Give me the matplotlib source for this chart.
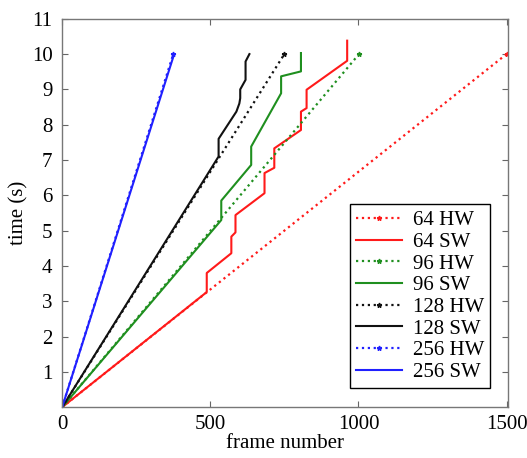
import numpy as np
import matplotlib
matplotlib.use('Agg')
import matplotlib.pyplot as plt

plt.rcParams['font.family'] = ['Liberation Serif', 'DejaVu Serif']
plt.rcParams['mathtext.fontset'] = 'stix'

# HW runs: straight lines (frame, time)
hw64_x = [0, 1500]
hw64_y = [0, 10.0]
hw96_x = [0, 1002]
hw96_y = [0, 10.0]
hw128_x = [0, 750]
hw128_y = [0, 10.0]
hw256_x = [0, 375]
hw256_y = [0, 10.0]

# SW runs: step-ish curves
sw64_x = [0, 488, 488, 571, 571, 585, 585, 683, 683, 716, 716, 806, 806, 825, 825, 962, 962]
sw64_y = [0, 3.26, 3.8, 4.36, 4.83, 4.95, 5.44, 6.06, 6.63, 6.78, 7.33, 7.85, 8.37, 8.47, 8.99, 9.81, 10.38]
sw96_x = [0, 537, 537, 638, 638, 739, 739, 806, 806]
sw96_y = [0, 5.3, 5.85, 6.86, 7.38, 8.89, 9.37, 9.51, 10.03]
sw128_x = [0, 528, 528, 588, 598, 601, 601, 619, 619, 632]
sw128_y = [0, 7.1, 7.6, 8.37, 8.6, 8.75, 9.0, 9.27, 9.79, 10.0]
sw256_x = [0, 378]
sw256_y = [0, 10.0]

red = '#ff1a1a'
green = '#1f8f1f'
black = '#111111'
blue = '#2020ff'

fig = plt.figure(figsize=(5.27, 4.58), dpi=100)
ax = fig.add_axes([0.118, 0.111, 0.846, 0.848])

def hw(x, y, c, lab):
    ax.plot(x, y, ls=':', color=c, lw=1.6, marker='*', ms=3.5, markevery=[-1], label=lab)

def sw(x, y, c, lab):
    ax.plot(x, y, ls='-', color=c, lw=1.5, label=lab)

hw(hw64_x, hw64_y, red, '64 HW')
sw(sw64_x, sw64_y, red, '64 SW')
hw(hw96_x, hw96_y, green, '96 HW')
sw(sw96_x, sw96_y, green, '96 SW')
hw(hw128_x, hw128_y, black, '128 HW')
sw(sw128_x, sw128_y, black, '128 SW')
hw(hw256_x, hw256_y, blue, '256 HW')
sw(sw256_x, sw256_y, blue, '256 SW')

ax.set_xlim(0, 1505)
ax.set_ylim(0, 11)
ax.set_xticks([0, 500, 1000, 1500])
ax.set_yticks(range(1, 12))
ax.tick_params(direction='in', top=True, right=True, labelsize=15, color='#666666', length=4)
ax.tick_params(axis='x', pad=6)
ax.tick_params(axis='y', pad=7)
for s in ax.spines.values():
    s.set_color('#777777')
    s.set_linewidth(1.0)
ax.set_xlabel('frame number', fontsize=15, labelpad=0)
ax.set_ylabel('time (s)', fontsize=15, labelpad=2)

leg = ax.legend(loc='lower right', bbox_to_anchor=(0.96, 0.049), borderaxespad=0,
                fontsize=15, fancybox=False, edgecolor='black', framealpha=1,
                labelspacing=0.1, handlelength=2.2, handletextpad=0.5,
                borderpad=0.3, numpoints=1)
leg.get_frame().set_linewidth(1.0)

fig.savefig('out.png', dpi=100)
